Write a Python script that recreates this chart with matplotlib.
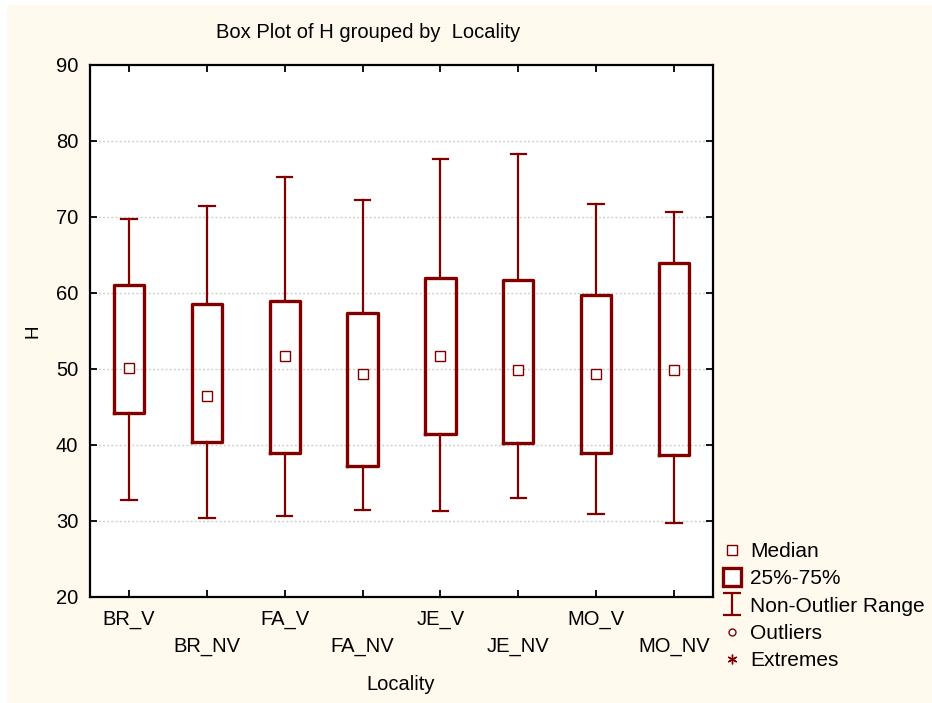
import matplotlib
matplotlib.use("Agg")
import matplotlib.pyplot as plt
from matplotlib.lines import Line2D
from matplotlib.path import Path
from matplotlib.patches import Rectangle
from matplotlib import font_manager

categories = ["BR_V", "BR_NV", "FA_V", "FA_NV", "JE_V", "JE_NV", "MO_V", "MO_NV"]
medians = [50.1, 46.4, 51.7, 49.4, 51.7, 49.9, 49.3, 49.9]
q1 = [44.2, 40.4, 38.9, 37.2, 41.4, 40.2, 38.9, 38.7]
q3 = [61.1, 58.6, 58.9, 57.4, 62.0, 61.75, 59.7, 63.9]
whis_lo = [32.7, 30.4, 30.6, 31.4, 31.3, 33.0, 30.9, 29.8]
whis_hi = [69.7, 71.5, 75.2, 72.2, 77.6, 78.3, 71.7, 70.6]
yticks = [20, 30, 40, 50, 60, 70, 80, 90]
legend_labels = ["Median", "25%-75%", "Non-Outlier Range", "Outliers", "Extremes"]

names = {f.name for f in font_manager.fontManager.ttflist}
main_font = "Liberation Sans" if "Liberation Sans" in names else "DejaVu Sans"
plt.rcParams["font.family"] = [main_font, "DejaVu Sans"]

RED = "#800000"
BG = "#FFF9EE"

fig = plt.figure(figsize=(9.32, 7.03), dpi=100)
fig.patch.set_facecolor("white")
fig.add_artist(Rectangle((7 / 932, 0), 1, 698 / 703, transform=fig.transFigure,
                         facecolor=BG, edgecolor="none", zorder=-10))

ax = fig.add_axes([90 / 932, 1 - 597 / 703, (713 - 90) / 932, (597 - 65) / 703])
ax.set_facecolor("white")

pos = [i + 0.5 for i in range(len(categories))]
stats = []
for i, c in enumerate(categories):
    stats.append(dict(label=c, med=medians[i], q1=q1[i], q3=q3[i],
                      whislo=whis_lo[i], whishi=whis_hi[i], fliers=[]))
ax.bxp(stats, positions=pos, widths=0.39, capwidths=0.2, showfliers=False,
       boxprops=dict(color=RED, linewidth=2.4),
       whiskerprops=dict(color=RED, linewidth=1.6),
       capprops=dict(color=RED, linewidth=1.6),
       medianprops=dict(visible=False), manage_ticks=False, zorder=3)
ax.plot(pos, medians, linestyle="none", marker="s", markersize=6.5,
        markerfacecolor="white", markeredgecolor=RED, markeredgewidth=1.0, zorder=4)

ax.set_xlim(0, len(categories))
ax.set_ylim(20, 90)
ax.set_yticks(yticks)
ax.set_xticks(pos)
ax.set_xticklabels(categories)
for y in yticks[1:-1]:
    ax.axhline(y, color="#d0d0d0", linestyle=(0, (1.5, 1.5)), linewidth=1.0, zorder=1)

for s in ax.spines.values():
    s.set_linewidth(1.6)
ax.tick_params(axis="both", direction="in", length=5, width=1.3,
               top=True, right=True, labelsize=14.5)
ax.tick_params(axis="y", pad=8.5)
ax.tick_params(axis="x", pad=9.5)
for t in ax.xaxis.get_major_ticks()[1::2]:
    t.set_pad(9.5 + 19)

ax.set_xlabel("Locality", fontsize=14.5)
ax.xaxis.set_label_coords((401 - 90) / 623, (597 - 685) / 532)
ax.xaxis.label.set_va("center")
ax.set_ylabel("H", fontsize=13.5)
ax.yaxis.set_label_coords((33 - 90) / 623, 0.5)
ax.yaxis.label.set_va("center")
fig.text(368 / 932, 1 - 32 / 703, "Box Plot of H grouped by  Locality",
         ha="center", va="center", fontsize=14.5)

# legend
ivert = [(-0.41, 0.5), (0.41, 0.5), (0, 0.5), (0, -0.5), (-0.41, -0.5), (0.41, -0.5)]
icodes = [Path.MOVETO, Path.LINETO, Path.MOVETO, Path.LINETO, Path.MOVETO, Path.LINETO]
imarker = Path(ivert, icodes)
handles = [
    Line2D([], [], linestyle="none", marker="s", markersize=6.5, markerfacecolor="white",
           markeredgecolor=RED, markeredgewidth=1.0),
    Line2D([], [], linestyle="none", marker="s", markersize=13.5, markerfacecolor="white",
           markeredgecolor=RED, markeredgewidth=2.4),
    Line2D([], [], linestyle="none", marker=imarker, markersize=15.5,
           markeredgecolor=RED, markeredgewidth=1.6),
    Line2D([], [], linestyle="none", marker="o", markersize=5, markerfacecolor="white",
           markeredgecolor=RED, markeredgewidth=1.0),
    Line2D([], [], linestyle="none", marker=(6, 2, 0), markersize=7,
           markeredgecolor=RED, markeredgewidth=1.0),
]
fig.legend(handles, legend_labels, loc="upper left",
           bbox_to_anchor=(721.5 / 932, 1 - 542 / 703), frameon=False,
           fontsize=15, handlelength=1.0, handletextpad=0.37, labelspacing=0.4,
           borderaxespad=0, borderpad=0)

fig.savefig("out.png", dpi=100, facecolor=fig.get_facecolor())
